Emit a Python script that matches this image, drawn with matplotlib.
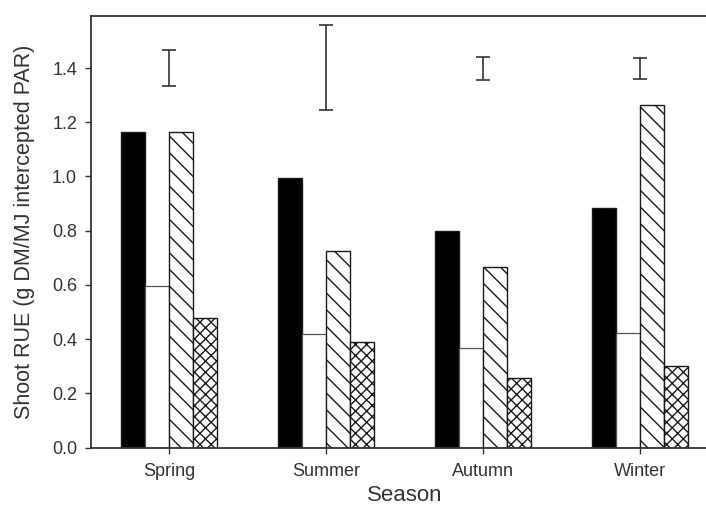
import numpy as np
import matplotlib
matplotlib.use("Agg")
import matplotlib.pyplot as plt

seasons = ["Spring", "Summer", "Autumn", "Winter"]
black_vals = [1.165, 0.996, 0.798, 0.885]
white_vals = [0.595, 0.420, 0.367, 0.424]
diag_vals = [1.165, 0.725, 0.666, 1.265]
cross_vals = [0.479, 0.389, 0.255, 0.302]
lsd_center = [1.400, 1.402, 1.399, 1.398]
lsd_half = [0.067, 0.157, 0.043, 0.040]

plt.rcParams["font.family"] = ["Liberation Sans", "DejaVu Sans"]
plt.rcParams["hatch.linewidth"] = 1.0

fig = plt.figure(figsize=(7.06, 5.08), dpi=100)
ax = fig.add_axes([91 / 706, 60.5 / 508, (718 - 91) / 706, (447.5 - 16) / 508])

x = np.arange(len(seasons))
w = 0.153
ec = "#1a1a1a"
ax.bar(x - 1.5 * w, black_vals, w, color="black", edgecolor=ec, linewidth=1.0)
ax.bar(x - 0.5 * w, white_vals, w, color="white", edgecolor="#555555", linewidth=0.9)
ax.bar(x + 0.5 * w, diag_vals, w, color="white", edgecolor=ec, linewidth=1.0, hatch="\\\\")
ax.bar(x + 1.5 * w, cross_vals, w, color="white", edgecolor=ec, linewidth=1.0, hatch="xxx")

ax.errorbar(x, lsd_center, yerr=lsd_half, fmt="none", ecolor="#333333",
            elinewidth=1.2, capsize=5, capthick=1.2)

ax.set_xlim(-0.5, 3.5)
ax.set_ylim(0, 1.592)
ax.set_xticks(x)
ax.set_xticklabels(seasons)
ax.set_yticks(np.arange(0, 1.41, 0.2))
ax.set_yticklabels([f"{v:.1f}" for v in np.arange(0, 1.41, 0.2)])

txt = "#333333"
ax.tick_params(direction="out", length=4.5, width=1.0, color="#333333",
               labelsize=13, labelcolor=txt)
ax.tick_params(axis="y", pad=5.5)
ax.tick_params(axis="x", pad=6.5)
for s in ax.spines.values():
    s.set_color("#333333")
    s.set_linewidth(1.3)

ax.set_ylabel("Shoot RUE (g DM/MJ intercepted PAR)", fontsize=15.5, color=txt, labelpad=12)
ax.set_xlabel("Season", fontsize=16, color=txt, labelpad=4)

fig.savefig("out.png", dpi=100)
